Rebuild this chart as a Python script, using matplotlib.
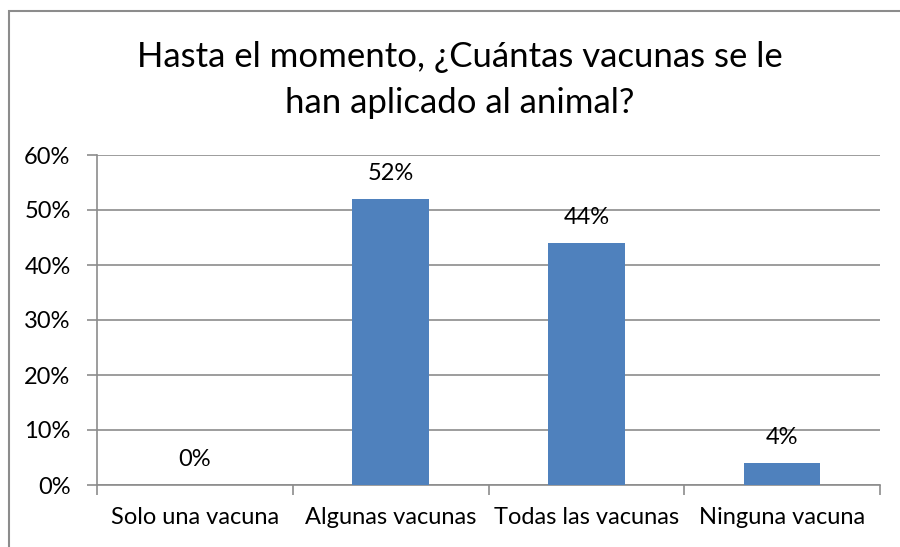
import matplotlib
matplotlib.use("Agg")
import matplotlib.pyplot as plt
from matplotlib.patches import Rectangle

categories = ["Solo una vacuna", "Algunas vacunas", "Todas las vacunas", "Ninguna vacuna"]
values = [0, 52, 44, 4]
yticks = [0, 10, 20, 30, 40, 50, 60]
title_lines = ["Hasta el momento, ¿Cuántas vacunas se le", "han aplicado al animal?"]

plt.rcParams['font.family'] = ['Lato', 'DejaVu Sans']

W, H = 900, 547
fig = plt.figure(figsize=(W/100, H/100), dpi=100)
fig.patch.set_facecolor('white')

fig.patches.append(Rectangle((9/W, -0.1), 1.2, (H-11)/H + 0.1, transform=fig.transFigure,
                             fill=False, edgecolor='#8c8c8c', linewidth=1.5))

ax = fig.add_axes([97/W, 1-485/H, (880-97)/W, (485-155)/H])
x = list(range(len(categories)))
ax.bar(x, values, width=0.39, color='#4F81BD', zorder=3)
ax.set_xlim(-0.5, len(categories)-0.5)
ax.set_ylim(0, 60)
ax.set_yticks(yticks)
ax.set_yticklabels([f"{v}%" for v in yticks], fontsize=17)
ax.set_xticks(x)
ax.set_xticklabels(categories, fontsize=17)
ax.tick_params(axis='x', length=0, pad=16)
ax.tick_params(axis='y', length=7, color='#8c8c8c', width=1.2, pad=12)
ax.set_xticks([i - 0.5 for i in range(len(categories)+1)], minor=True)
ax.tick_params(axis='x', which='minor', length=7, color='#8c8c8c', width=1.2)
ax.grid(axis='y', color='#8c8c8c', linewidth=1.2, zorder=0)
for s in ['top', 'right']:
    ax.spines[s].set_visible(False)
for s in ['left', 'bottom']:
    ax.spines[s].set_color('#8c8c8c')
    ax.spines[s].set_linewidth(1.2)
ax.set_facecolor('none')

for xi, v in zip(x, values):
    ax.annotate(f"{v}%", (xi, v), xytext=(0, 11), textcoords='offset points',
                ha='center', va='bottom', fontsize=17)

for line, yb in zip(title_lines, [67, 113]):
    fig.text(460/W, 1-yb/H, line, ha='center', va='baseline', fontsize=25)

fig.savefig("out.png", dpi=100)
